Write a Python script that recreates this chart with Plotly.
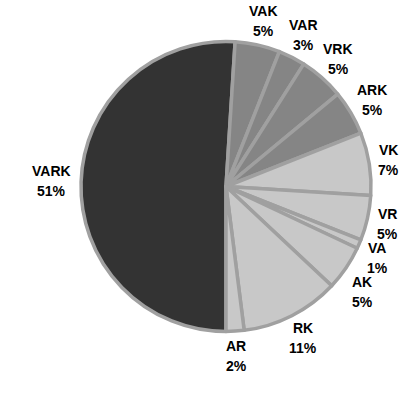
import math
import plotly.graph_objects as go

labels = ["VARK", "VAK", "VAR", "VRK", "ARK", "VK", "VR", "VA", "AK", "RK", "AR"]
values = [51, 5, 3, 5, 5, 7, 5, 1, 5, 11, 2]
colors = ["#333333", "#858585", "#858585", "#858585", "#858585",
          "#c8c8c8", "#c8c8c8", "#c8c8c8", "#c8c8c8", "#c8c8c8", "#c8c8c8"]

W, H = 420, 396
CX, CY, R = 226, 186.5, 145   # pie centre / radius in pixels
START = 180                   # first slice starts at 6 o'clock, clockwise

fig = go.Figure(go.Pie(
    labels=labels,
    values=values,
    sort=False,
    direction="clockwise",
    rotation=START,
    marker=dict(colors=colors, line=dict(color="#a0a0a0", width=3.5)),
    textinfo="none",
    hoverinfo="label+value",
    showlegend=False,
    domain=dict(x=[(CX - R) / W, (CX + R) / W],
                y=[1 - (CY + R) / H, 1 - (CY - R) / H]),
))

# outside labels placed at each slice's mid angle, pushed apart on collision
total = sum(values)
cum = 0
gap, hh, line = 10, 15, 10
boxes = []
for lab, val in zip(labels, values):
    mid = START + (cum + val / 2) / total * 360
    cum += val
    a = math.radians(mid)
    ux, uy = math.sin(a), -math.cos(a)
    pct = f"{val}%"
    hw = 5 * max(len(lab), len(pct))
    x = CX + (R + gap) * ux + hw * ux
    y = CY + (R + gap) * uy + hh * uy
    boxes.append([mid % 360, lab, pct, x, y, hw])

# resolve overlaps: go around in angle order and push labels down
boxes.sort(key=lambda b: b[0])
placed = []
for b in boxes:
    moved = True
    while moved:
        moved = False
        for p in placed:
            if abs(p[3] - b[3]) < p[5] + b[5] + 4 and abs(p[4] - b[4]) < 34:
                b[4] = p[4] + 34 if b[0] < 180 else b[4]
                moved = b[0] < 180
                if moved:
                    break
    placed.append(b)

font = dict(family="Liberation Sans, Arial, sans-serif", size=14, color="#000000")
annotations = []
for _, lab, pct, x, y, hw in placed:
    for txt, dy in ((lab, -line), (pct, line)):
        annotations.append(dict(
            text=f"<b>{txt}</b>", x=x / W, y=1 - (y + dy) / H,
            xref="paper", yref="paper", xanchor="center", yanchor="middle",
            showarrow=False, font=font,
        ))

fig.update_layout(
    width=W, height=H,
    margin=dict(l=0, r=0, t=0, b=0),
    paper_bgcolor="white", plot_bgcolor="white",
    annotations=annotations,
)
fig.write_html("out.html", config={"displayModeBar": False},
               post_script="document.body.style.margin='0px';")
